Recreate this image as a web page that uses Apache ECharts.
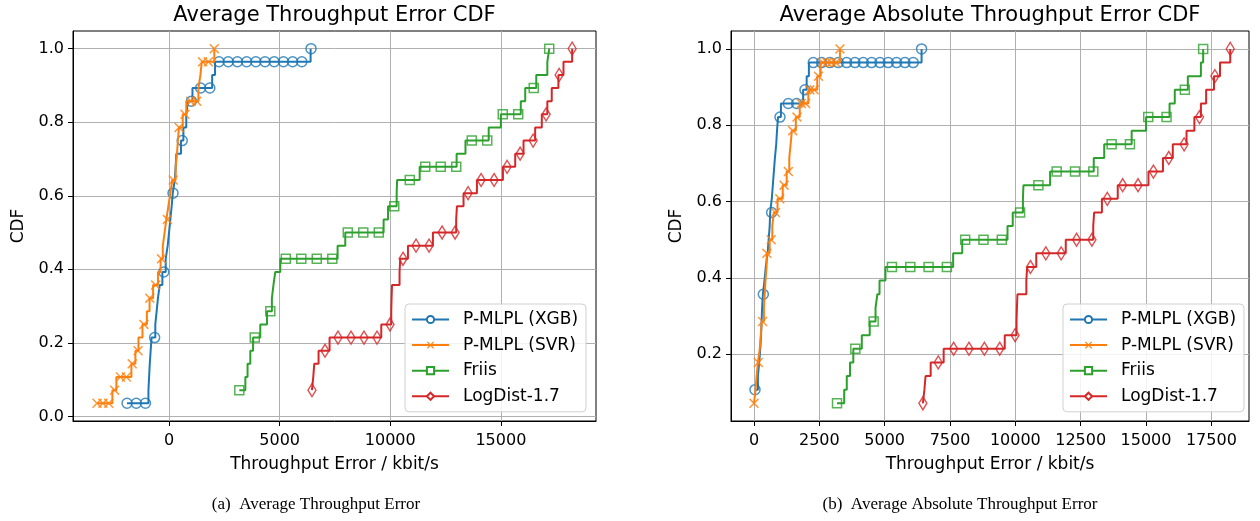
<!DOCTYPE html>
<html>
<head>
<meta charset="utf-8">
<script src="https://cdn.jsdelivr.net/npm/echarts@6/dist/echarts.min.js"></script>
<style>
  html, body { margin: 0; padding: 0; background: #fff; }
  #chart { width: 1260px; height: 521px; }
</style>
</head>
<body>
<div id="chart"></div>
<script>
// sorted throughput error per run (kbit/s), 28 runs each
const xgbErr = [-1898, -930, -900, -870, -830, -790, -620, -560, -500, -420, -300, -150, -60, 0,
  60, 120, 170, 260, 300, 330, 540, 650, 780, 860, 1060, 1950, 2080, 6400];
const svrErr = [-3254, -2560, -2380, -1700, -1520, -1380, -1200, -1000, -880, -720, -500, -380, -280, -200,
  -120, -30, 60, 150, 300, 360, 400, 450, 620, 780, 1330, 1420, 1480, 2047];
// Friis and LogDist never underestimate, so error == absolute error
const friisErr = [3177, 3177, 3450, 3550, 3674, 3800, 4125, 4428, 4650, 4720, 4803, 5029, 7620, 7967,
  9700, 9900, 10290, 10310, 11330, 13000, 13400, 14450, 15000, 15900, 16100, 16600, 17100, 17186];
const logDistErr = [6462, 6462, 6520, 6565, 6760, 7257, 9594, 10045, 10060, 10080, 10420, 10452, 10800, 11929,
  12980, 13014, 13312, 13918, 15093, 15648, 16024, 16550, 16850, 17100, 17300, 17600, 17830, 18222];
const xgbAbsErr = [38, 38, 38, 150, 200, 240, 270, 290, 310, 340, 400, 450, 520, 560,
  600, 620, 680, 720, 760, 800, 850, 880, 920, 1030, 1880, 2015, 2100, 6412];
const svrAbsErr = [0, 0, 60, 100, 150, 220, 260, 300, 380, 410, 440, 480, 490, 600,
  700, 760, 900, 1100, 1250, 1350, 1400, 1450, 1600, 1750, 2080, 2420, 2550, 3289];

// where the markers sit along x
const xgbMarks = [-1898, -1482, -1066, -650, -235, 181, 597, 1013, 1429, 1844, 2260, 2676, 3092, 3508,
  3924, 4339, 4755, 5171, 5587, 6003, 6419];
const svrMarks = [-3254, -2989, -2724, -2459, -2194, -1929, -1664, -1399, -1134, -869, -604, -339, -74, 191,
  456, 721, 986, 1251, 1516, 1781, 2047];
const friisMarks = [3177, 3877, 4578, 5278, 5979, 6679, 7380, 8080, 8781, 9481, 10181, 10882, 11582, 12283,
  12983, 13684, 14384, 15085, 15785, 16486, 17186];
const logDistMarks = [6462, 7050, 7638, 8226, 8814, 9402, 9990, 10578, 11166, 11754, 12342, 12930, 13518, 14106,
  14694, 15282, 15870, 16458, 17046, 17634, 18222];
const xgbAbsMarks = [38, 357, 675, 994, 1313, 1631, 1950, 2269, 2588, 2906, 3225, 3544, 3863, 4181,
  4500, 4819, 5137, 5456, 5775, 6093, 6412];
const svrAbsMarks = [0, 164, 329, 493, 658, 822, 987, 1151, 1316, 1480, 1645, 1809, 1974, 2138,
  2303, 2467, 2632, 2796, 2961, 3125, 3289];

const names = ['P-MLPL (XGB)', 'P-MLPL (SVR)', 'Friis', 'LogDist-1.7'];
const xTicksA = [0, 5000, 10000, 15000];
const xTicksB = [0, 2500, 5000, 7500, 10000, 12500, 15000, 17500];
const yTicksA = [0, 0.2, 0.4, 0.6, 0.8, 1.0];
const yTicksB = [0.2, 0.4, 0.6, 0.8, 1.0];

const colors = ['#1f77b4', '#ff7f0e', '#2ca02c', '#d62728'];
const xPath = 'path://M0,1.1L1.1,0L5,3.9L8.9,0L10,1.1L6.1,5L10,8.9L8.9,10L5,6.1L1.1,10L0,8.9L3.9,5Z';
const FONT = 'DejaVu Sans';

// fraction of runs with error <= m
const cdfAt = (s, m) => s.filter((v) => v <= m).length / s.length;
const ecdf = (s) => s.map((x) => [x, cdfAt(s, x)]);

const markerStyle = [
  { symbol: 'circle', size: 10, legend: 'emptyCircle' },
  { symbol: xPath, size: 10, legend: xPath },
  { symbol: 'rect', size: 9, legend: 'emptyRect' },
  { symbol: 'diamond', size: [8, 13], legend: 'emptyDiamond' },
];

function curve(gi, k, samples, marks) {
  const c = colors[k];
  const m = markerStyle[k];
  const filled = k === 1;
  return [
    {
      name: names[k],
      type: 'line',
      step: 'end',
      xAxisIndex: gi,
      yAxisIndex: gi,
      data: ecdf(samples),
      showSymbol: false,
      symbol: m.legend,
      symbolSize: 10,
      color: c,
      lineStyle: { color: c, width: 2 },
      itemStyle: filled ? { color: c, borderWidth: 0 } : { color: c, borderColor: c, borderWidth: 1.5 },
      animation: false,
      silent: true,
      z: 2 + k,
    },
    {
      name: names[k] + ' markers',
      type: 'scatter',
      xAxisIndex: gi,
      yAxisIndex: gi,
      data: marks.map((x) => [x, cdfAt(samples, x)]),
      symbol: m.symbol,
      symbolSize: m.size,
      itemStyle: filled
        ? { color: c }
        : { color: 'rgba(0,0,0,0)', borderColor: c, borderWidth: 1.5 },
      animation: false,
      silent: true,
      z: 2 + k,
    },
  ];
}

function xAxis(gi, min, max, ticks) {
  return {
    type: 'value',
    gridIndex: gi,
    min, max,
    name: 'Throughput Error / kbit/s',
    nameLocation: 'middle',
    nameGap: 35,
    nameTextStyle: { fontFamily: FONT, fontSize: 17, color: '#000' },
    axisLine: { show: true, onZero: false, lineStyle: { color: '#000', width: 1 } },
    axisTick: { show: true, length: 5, customValues: ticks, lineStyle: { color: '#000' } },
    axisLabel: {
      customValues: ticks, margin: 12, fontFamily: FONT, fontSize: 16, color: '#000',
      formatter: (v) => String(v),
    },
    splitLine: { show: true, lineStyle: { color: '#b0b0b0', width: 1 } },
  };
}

function yAxis(gi, min, max, ticks) {
  return {
    type: 'value',
    gridIndex: gi,
    min, max,
    name: 'CDF',
    nameLocation: 'middle',
    nameGap: 46,
    nameRotate: 90,
    nameTextStyle: { fontFamily: FONT, fontSize: 17, color: '#000' },
    axisLine: { show: true, onZero: false, lineStyle: { color: '#000', width: 1 } },
    axisTick: { show: true, length: 5, customValues: ticks, lineStyle: { color: '#000' } },
    axisLabel: {
      customValues: ticks, margin: 9, fontFamily: FONT, fontSize: 16, color: '#000',
      formatter: (v) => v.toFixed(1),
    },
    splitLine: { show: true, lineStyle: { color: '#b0b0b0', width: 1 } },
  };
}

function legend(left) {
  return {
    orient: 'vertical',
    left, top: 304,
    data: names,
    itemWidth: 37,
    itemHeight: 9,
    itemGap: 4.6,
    padding: [5, 8, 5, 6],
    backgroundColor: 'rgba(255,255,255,0.85)',
    borderColor: '#d0d0d0',
    borderWidth: 1,
    borderRadius: 4,
    selectedMode: false,
    textStyle: { fontFamily: FONT, fontSize: 17, color: '#000', lineHeight: 21, padding: [0, 0, 0, 9] },
  };
}

const textEl = (x, y, text, font) => ({
  type: 'text', x, y, silent: true,
  style: { text, font, fill: '#000', textAlign: 'center', textVerticalAlign: 'middle' },
});

const chart = echarts.init(document.getElementById('chart'), null, { renderer: 'canvas' });
chart.setOption({
  backgroundColor: '#fff',
  animation: false,
  grid: [
    { left: 73, top: 31, width: 523, height: 390, show: true, borderColor: '#000', borderWidth: 1 },
    { left: 731, top: 31, width: 518, height: 390, show: true, borderColor: '#000', borderWidth: 1 },
  ],
  xAxis: [xAxis(0, -4340, 19300, xTicksA), xAxis(1, -880, 18940, xTicksB)],
  yAxis: [yAxis(0, -0.0125, 1.048, yTicksA), yAxis(1, 0.025, 1.047, yTicksB)],
  legend: [legend(405), legend(1063)],
  graphic: [
    textEl(334.5, 16, 'Average Throughput Error CDF', '21px "DejaVu Sans"'),
    textEl(990, 16, 'Average Absolute Throughput Error CDF', '21px "DejaVu Sans"'),
    textEl(316, 505, '(a)  Average Throughput Error', '17px "Liberation Serif"'),
    textEl(960, 505, '(b)  Average Absolute Throughput Error', '17px "Liberation Serif"'),
  ],
  series: [
    ...curve(0, 0, xgbErr, xgbMarks),
    ...curve(0, 1, svrErr, svrMarks),
    ...curve(0, 2, friisErr, friisMarks),
    ...curve(0, 3, logDistErr, logDistMarks),
    ...curve(1, 0, xgbAbsErr, xgbAbsMarks),
    ...curve(1, 1, svrAbsErr, svrAbsMarks),
    ...curve(1, 2, friisErr, friisMarks),
    ...curve(1, 3, logDistErr, logDistMarks),
  ],
});
</script>
</body>
</html>
